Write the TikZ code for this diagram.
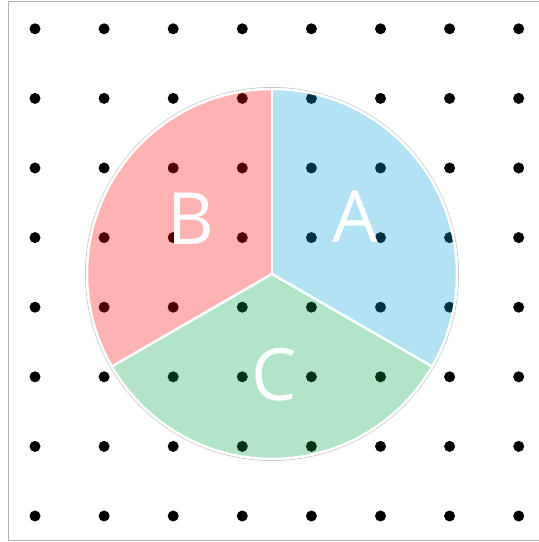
\documentclass[tikz,border=0pt]{standalone}
\usepackage{fontspec}
\usepackage{xcolor}
\usepackage{tikz}
\newfontfamily\sectorfont{Open Sans}
\definecolor{sectA}{RGB}{0,160,220}
\definecolor{sectB}{RGB}{255,0,0}
\definecolor{sectC}{RGB}{0,170,70}

\begin{document}
\begin{tikzpicture}[
    x=1pt, y=1pt,
    dot/.style={circle, fill=black, inner sep=0pt, minimum size=11pt},
    sector/.style={fill opacity=0.3, draw=none},
    divider/.style={draw=white, line width=2.5pt},
    letter/.style={text=white, font=\sectorfont\fontsize{72}{72}\selectfont, inner sep=0pt}
]
    \useasboundingbox (0,0) rectangle (539,542);
    % frame
    \draw[gray!60, line width=1pt] (8,1) rectangle (560,540);

    % grid of dots
    \foreach \i in {0,...,7}
        \foreach \j in {0,...,7}
            \node[dot] (d\i\j) at (35+69.1*\i, 26+69.6*\j) {};

    % circle split into three sectors
    \coordinate (ctr) at (272,268);
    \draw[gray!50, line width=0.8pt] (ctr) circle[radius=186.5];
    \fill[sector, sectA] (ctr) -- ++(90:185) arc[start angle=90, end angle=-30, radius=185] -- cycle;
    \fill[sector, sectB] (ctr) -- ++(90:185) arc[start angle=90, end angle=210, radius=185] -- cycle;
    \fill[sector, sectC] (ctr) -- ++(210:185) arc[start angle=210, end angle=330, radius=185] -- cycle;
    \draw[divider] (ctr) circle[radius=185];
    \foreach \a in {90,210,330}
        \draw[divider] (ctr) -- ++(\a:185);

    % labels
    \node[letter] (la) at (355,325) {A};
    \node[letter] (lb) at (191,323) {B};
    \node[letter] (lc) at (274,167) {C};
\end{tikzpicture}
\end{document}
